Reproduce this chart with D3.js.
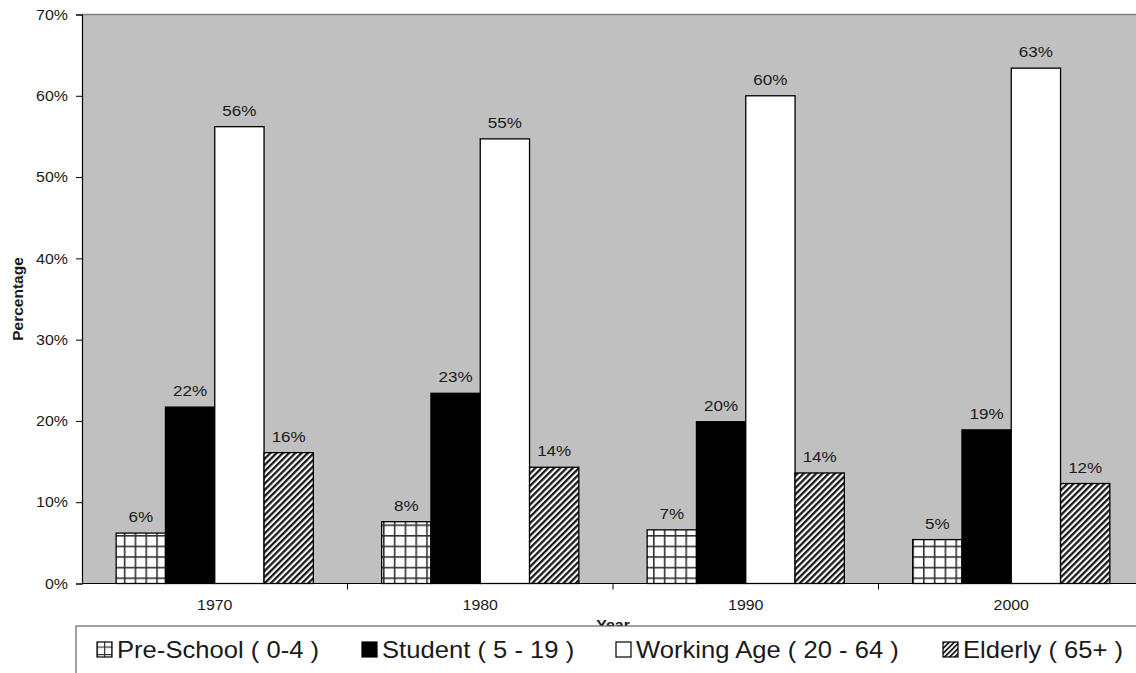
<!DOCTYPE html>
<html>
<head>
<meta charset="utf-8">
<script src="https://cdn.jsdelivr.net/npm/d3@7"></script>
<style>
  html, body { margin: 0; padding: 0; background: #fff; }
  svg { display: block; font-family: "Liberation Sans", Arial, sans-serif; }
</style>
</head>
<body>
<svg id="chart" width="1136" height="673"></svg>
<script>
// Population share by age group, per census year
const years = ["1970", "1980", "1990", "2000"];
const groups = ["Pre-School ( 0-4 )", "Student ( 5 - 19 )", "Working Age ( 20 - 64 )", "Elderly ( 65+ )"];
const preSchool = [6.2, 7.6, 6.6, 5.4];
const student = [21.7, 23.4, 19.9, 18.9];
const workingAge = [56.2, 54.7, 60.0, 63.4];
const elderly = [16.1, 14.3, 13.6, 12.3];
const yTicks = [0, 10, 20, 30, 40, 50, 60, 70];

const seriesValues = [preSchool, student, workingAge, elderly];

const svg = d3.select("#chart");
const FONT = "Liberation Sans, Arial, sans-serif";
const STRETCH = 1.1; // text is set slightly wide

const plot = { left: 82, top: 14.5, width: 1062, bottom: 583.5 };

const x0 = d3.scaleBand().domain(years).range([plot.left, plot.left + plot.width]).paddingInner(0).paddingOuter(0);
const barW = 49.3;
const groupOffset = (x0.bandwidth() - barW * groups.length) / 2;
const y = d3.scaleLinear().domain([0, 70]).range([plot.bottom, plot.top]);

// helper: place a widened text at (x, y)
function wideText(sel, xf, yf) {
  return sel.attr("x", 0).attr("y", 0)
    .attr("transform", function (d, i) { return `translate(${xf(d, i)},${yf(d, i)}) scale(${STRETCH},1)`; });
}

// Fill patterns
const defs = svg.append("defs");
const grid = defs.append("pattern")
  .attr("id", "grid").attr("patternUnits", "userSpaceOnUse")
  .attr("width", 10.8).attr("height", 10.6).attr("x", 5).attr("y", 5);
grid.append("rect").attr("width", 10.8).attr("height", 10.6).attr("fill", "#fff");
grid.append("rect").attr("width", 1.6).attr("height", 10.6).attr("fill", "#333");
grid.append("rect").attr("width", 10.8).attr("height", 1.6).attr("fill", "#333");

const hatch = defs.append("pattern")
  .attr("id", "hatch").attr("patternUnits", "userSpaceOnUse")
  .attr("width", 4.4).attr("height", 10).attr("patternTransform", "rotate(45)");
hatch.append("rect").attr("width", 4.4).attr("height", 10).attr("fill", "#fff");
hatch.append("rect").attr("width", 2.3).attr("height", 10).attr("fill", "#1a1a1a");

const gs = defs.append("pattern")
  .attr("id", "gridSmall").attr("patternUnits", "userSpaceOnUse")
  .attr("width", 7.5).attr("height", 7.5).attr("x", 97).attr("y", 642);
gs.append("rect").attr("width", 7.5).attr("height", 7.5).attr("fill", "#fff");
gs.append("rect").attr("width", 1.2).attr("height", 7.5).attr("fill", "#333");
gs.append("rect").attr("width", 7.5).attr("height", 1.2).attr("fill", "#333");
const hs = defs.append("pattern")
  .attr("id", "hatchSmall").attr("patternUnits", "userSpaceOnUse")
  .attr("width", 3.6).attr("height", 10).attr("patternTransform", "rotate(45)");
hs.append("rect").attr("width", 3.6).attr("height", 10).attr("fill", "#fff");
hs.append("rect").attr("width", 1.8).attr("height", 10).attr("fill", "#222");

const fills = ["url(#grid)", "#000", "#fff", "url(#hatch)"];
const swatchFills = ["url(#gridSmall)", "#000", "#fff", "url(#hatchSmall)"];

// Plot background
svg.append("rect")
  .attr("x", plot.left).attr("y", plot.top)
  .attr("width", plot.width).attr("height", plot.bottom - plot.top)
  .attr("fill", "#c0c0c0");
svg.append("line")
  .attr("x1", plot.left).attr("x2", plot.left + plot.width)
  .attr("y1", plot.top).attr("y2", plot.top)
  .attr("stroke", "#808080").attr("stroke-width", 1.5);

// Bars
const rows = [];
years.forEach((yr, i) => {
  seriesValues.forEach((vals, s) => rows.push({ year: yr, s, v: vals[i] }));
});
const barX = d => x0(d.year) + groupOffset + d.s * barW;

svg.append("g").selectAll("rect").data(rows).join("rect")
  .attr("x", barX)
  .attr("y", d => y(d.v))
  .attr("width", barW)
  .attr("height", d => y(0) - y(d.v))
  .attr("fill", d => fills[d.s])
  .attr("stroke", "#000").attr("stroke-width", 1.3);

// Value labels
wideText(svg.append("g").selectAll("text").data(rows).join("text"),
    d => barX(d) + barW / 2, d => y(d.v) - 11)
  .attr("text-anchor", "middle")
  .attr("font-size", 15.5).attr("fill", "#1a1a1a")
  .text(d => Math.round(d.v) + "%");

// Y axis
const yAxis = d3.axisLeft(y).tickValues(yTicks).tickSize(6).tickPadding(8).tickFormat(d => d + "%");
const gy = svg.append("g").attr("transform", `translate(${plot.left},0)`).call(yAxis);
gy.select(".domain").attr("stroke", "#000").attr("stroke-width", 1.2);
gy.selectAll(".tick line").attr("stroke", "#000");
gy.selectAll(".tick text").each(function () {
  const t = d3.select(this);
  const tx = +t.attr("x");
  t.attr("x", 0).attr("transform", `translate(${tx},0) scale(${STRETCH},1)`);
}).attr("font-size", 14.5).attr("fill", "#1a1a1a").attr("font-family", FONT);

// X axis: ticks sit between categories
svg.append("line")
  .attr("x1", plot.left).attr("x2", plot.left + plot.width)
  .attr("y1", plot.bottom).attr("y2", plot.bottom)
  .attr("stroke", "#000").attr("stroke-width", 1.2);
svg.append("g").selectAll("line").data(years.slice(1)).join("line")
  .attr("x1", d => x0(d)).attr("x2", d => x0(d))
  .attr("y1", plot.bottom).attr("y2", plot.bottom + 6)
  .attr("stroke", "#000");
wideText(svg.append("g").selectAll("text").data(years).join("text"),
    d => x0(d) + x0.bandwidth() / 2, () => 610)
  .attr("text-anchor", "middle")
  .attr("font-size", 14.5).attr("fill", "#1a1a1a")
  .text(d => d);

// Axis titles
svg.append("text")
  .attr("transform", `translate(23,299) rotate(-90)`)
  .attr("text-anchor", "middle")
  .attr("font-size", 15.5).attr("font-weight", "bold").attr("fill", "#1a1a1a")
  .text("Percentage");
wideText(svg.append("text"), () => plot.left + plot.width / 2, () => 629.5)
  .attr("text-anchor", "middle")
  .attr("font-size", 14.5).attr("font-weight", "bold").attr("fill", "#1a1a1a")
  .text("Year");

// Legend
const legend = svg.append("g");
legend.append("rect")
  .attr("x", 76).attr("y", 626)
  .attr("width", 1100).attr("height", 80)
  .attr("fill", "#fff").attr("stroke", "#666").attr("stroke-width", 1.2);
const legendX = [97, 362, 616, 943];
const items = legend.selectAll("g.item").data(groups).join("g").attr("class", "item")
  .attr("transform", (d, i) => `translate(${legendX[i]},642)`);
items.append("rect")
  .attr("width", 15).attr("height", 15)
  .attr("fill", (d, i) => swatchFills[i])
  .attr("stroke", "#000").attr("stroke-width", 1.2);
items.append("text")
  .attr("x", 0).attr("y", 0)
  .attr("transform", `translate(20,16) scale(1.09,1)`)
  .attr("font-size", 23.5).attr("fill", "#1a1a1a")
  .text(d => d);
</script>
</body>
</html>
